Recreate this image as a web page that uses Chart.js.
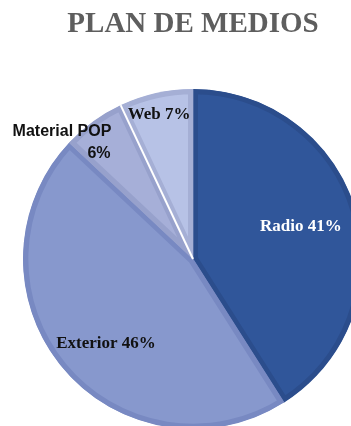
<!DOCTYPE html>
<html>
<head>
<meta charset="utf-8">
<script src="https://cdn.jsdelivr.net/npm/chart.js@4/dist/chart.umd.min.js"></script>
<style>
html,body{margin:0;padding:0;background:#fff;overflow:hidden;}
#wrap{width:400px;height:460px;}
</style>
</head>
<body>
<div id="wrap"><canvas id="c" width="400" height="460"></canvas></div>
<script>
const titleText = 'PLAN DE MEDIOS';
const categories = ['Radio', 'Exterior', 'Material POP', 'Web'];
const values = [41, 46, 6, 7];
const fillColors = ['#30569a', '#8798cd', '#a6afd8', '#b7c2e6'];
const edgeColors = ['#2b4d8c', '#7889c2', '#97a1cc', '#a5afd5'];

// label layout: lines, angle (deg from top, clockwise) and fraction of radius
const labelLayout = [
  {lines: [{t: 'Radio 41%', a: 73.5, f: 0.662}], font: 'bold 17px "Liberation Serif", serif', color: '#ffffff'},
  {lines: [{t: 'Exterior 46%', a: 225.7, f: 0.715}], font: 'bold 17px "Liberation Serif", serif', color: '#111111'},
  {lines: [{t: 'Material POP', a: 314.3, f: 1.077}, {t: '6%', a: 318.2, f: 0.83}], font: 'bold 16px "Liberation Sans", sans-serif', color: '#111111'},
  {lines: [{t: 'Web 7%', a: 346.8, f: 0.875}], font: 'bold 17px "Liberation Serif", serif', color: '#111111'}
];

const labelPlugin = {
  id: 'sliceLabels',
  afterDatasetsDraw(chart) {
    const ctx = chart.ctx;
    const arcs = chart.getDatasetMeta(0).data;
    // white separator between Material POP and Web
    const web = arcs[3].getProps(['x', 'y', 'startAngle', 'outerRadius'], true);
    ctx.save();
    ctx.strokeStyle = '#ffffff';
    ctx.lineWidth = 2;
    ctx.beginPath();
    ctx.moveTo(web.x, web.y);
    ctx.lineTo(web.x + Math.cos(web.startAngle) * web.outerRadius, web.y + Math.sin(web.startAngle) * web.outerRadius);
    ctx.stroke();
    ctx.restore();

    arcs.forEach((arc, i) => {
      const p = arc.getProps(['x', 'y', 'outerRadius'], true);
      const L = labelLayout[i];
      ctx.save();
      ctx.font = L.font;
      ctx.fillStyle = L.color;
      ctx.textAlign = 'center';
      ctx.textBaseline = 'middle';
      L.lines.forEach(ln => {
        const ang = (ln.a - 90) * Math.PI / 180;
        const r = p.outerRadius * ln.f;
        ctx.fillText(ln.t, p.x + Math.cos(ang) * r, p.y + Math.sin(ang) * r);
      });
      ctx.restore();
    });
  }
};

new Chart(document.getElementById('c'), {
  type: 'pie',
  data: {
    labels: categories,
    datasets: [{
      data: values,
      backgroundColor: fillColors,
      borderColor: edgeColors,
      borderWidth: 5,
      borderAlign: 'inner',
      hoverOffset: 0
    }]
  },
  options: {
    responsive: false,
    animation: false,
    events: [],
    layout: {padding: {left: 23, right: 37, top: 0, bottom: 31}},
    plugins: {
      legend: {display: false},
      tooltip: {enabled: false},
      title: {
        display: true,
        text: titleText,
        color: '#5e5e5e',
        font: {family: '"Liberation Serif", serif', size: 29, weight: 'bold', lineHeight: 1.2},
        padding: {top: 7, bottom: 47.2}
      }
    }
  },
  plugins: [labelPlugin]
});
</script>
</body>
</html>
